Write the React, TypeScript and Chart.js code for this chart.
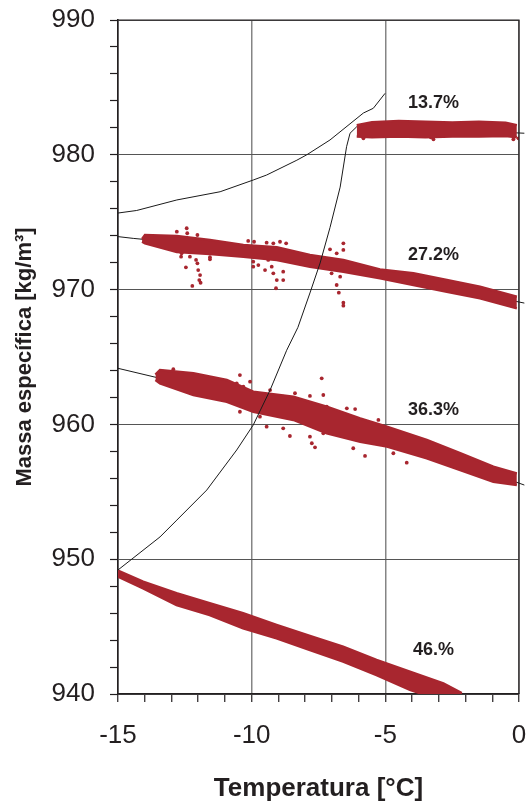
import React, { useEffect, useRef } from 'react';
import { Chart, registerables } from 'chart.js';

Chart.register(...registerables);

const FONT = "'Liberation Sans', Arial, Helvetica, sans-serif";
const TEXT = '#231f20';
const RED = '#a8262f';

// ---------- data ----------
// Dense measurement bands: upper and lower edge of each point cloud
const band137X = [-6.07, -5.5, -4.5, -3.5, -2.5, -1.5, -0.5, -0.08];
const band137Upper = [982.2, 982.42, 982.5, 982.45, 982.4, 982.45, 982.38, 982.2];
const band137Lower = [981.35, 981.3, 981.35, 981.3, 981.35, 981.35, 981.4, 981.3];

const band272X = [-14.1, -13.99, -12.8, -11.56, -10.31, -9.06, -7.82, -6.57, -5.2, -3.95, -2.7, -1.46, -0.08];
const band272Upper = [973.75, 974.05, 973.98, 973.68, 973.31, 973.14, 972.57, 972.2, 971.5, 971.21, 970.71, 970.21, 969.47];
const band272Lower = [973.55, 973.43, 972.79, 972.64, 972.44, 972.2, 971.7, 971.33, 970.84, 970.34, 969.84, 969.35, 968.61];

const band363X = [-13.6, -13.43, -12.18, -10.93, -9.94, -8.44, -7.19, -5.94, -4.94, -3.45, -2.2, -0.96, -0.08];
const band363Upper = [963.7, 964.04, 963.79, 963.29, 962.43, 962.05, 961.31, 960.45, 959.83, 958.84, 957.86, 956.86, 956.37];
const band363Lower = [963.3, 963.05, 962.18, 961.68, 960.94, 960.33, 959.34, 958.72, 958.35, 957.49, 956.62, 955.75, 955.5];

const band46X = [-15, -14.06, -12.81, -11.57, -10.32, -9.07, -7.82, -6.58, -5.33, -4.08, -2.83, -2.14];
const band46Upper = [949.15, 948.33, 947.47, 946.73, 945.99, 945.12, 944.3, 943.51, 942.52, 941.66, 940.79, 940.07];
const band46Lower = [948.7, 947.84, 946.6, 945.86, 944.87, 944.13, 943.26, 942.4, 941.41, 940.3, 939.5, 939.5];

// Scattered outlier points
const out137X = [-5.82, -3.2, -3.3, -0.21, -0.02];
const out137Y = [981.22, 981.15, 981.3, 981.15, 981.22];

const out272X = [-12.43, -12.41, -12.8, -12.03, -12.22, -11.91, -12.46, -12.0, -11.96, -12.64, -11.56, -11.93,
  -10.13, -9.91, -9.44, -9.19, -8.94, -8.71, -9.94, -9.5, -9.19, -9.06, -9.09, -8.82, -8.82,
  -6.57, -6.57, -7.07, -6.82, -7.01, -6.69, -6.82, -6.74, -6.57, -6.57,
  -12.62, -12.31, -12.08, -12.03, -11.56, -11.18, -9.81, -9.94, -9.75, -9.38, -9.25, -8.82];
const out272Y = [974.55, 974.18, 974.3, 974.05, 970.27, 970.51, 971.65, 971.45, 970.71, 972.44, 972.25, 971.08,
  973.61, 973.55, 973.48, 973.43, 973.55, 973.43, 971.7, 971.45, 971.21, 970.71, 970.1, 971.33, 970.71,
  973.43, 972.94, 972.99, 972.69, 971.21, 970.96, 970.34, 969.77, 969.03, 968.81,
  972.69, 972.44, 972.2, 971.95, 972.4, 972.94, 972.44, 972.07, 971.82, 972.2, 971.7, 972.2];

const out363X = [-12.93, -13.31, -10.44, -10.06, -7.38, -7.32, -6.44, -6.13, -9.31, -8.38, -7.82, -9.44, -8.82,
  -8.57, -7.75, -7.63, -6.2, -5.76, -4.2, -5.26,
  -10.56, -10.31, -10.13, -10.44, -9.69, -9.06, -8.82, -8.19, -7.94, -7.57, -7.19, -6.69, -6.32, -7.82, -7.32, -5.82, -4.7];
const out363Y = [964.09, 963.91, 963.66, 963.17, 963.42, 962.18, 961.19, 961.14, 962.55, 962.31, 962.11, 959.83, 959.71,
  959.14, 958.6, 958.3, 958.23, 957.66, 957.16, 960.33,
  963.05, 962.8, 961.31, 960.94, 960.57, 960.94, 962.05, 961.81, 961.07, 960.57, 961.31, 960.33, 959.58, 959.09, 959.34, 958.84, 957.86];

// Thin black fitted lines
const trend137X = [-6.07, -5.0, 0.2];
const trend137Y = [982.08, 982.06, 981.6];
const trend272X = [-15, -14.43, -14.06, -7, 0.2];
const trend272Y = [973.93, 973.8, 973.73, 971.9, 969.0];
const trend363X = [-15, -13.43, -10, -5, 0.2];
const trend363Y = [964.16, 963.42, 961.9, 959.2, 955.5];
const trend46X = [-15, -14.4, -2];
const trend46Y = [949.0, 948.4, 939.8];

// Curves
const curveLowX = [-15, -13.43, -12.8, -11.68, -10.56, -9.94, -9.31, -8.69, -8.27, -7.82, -7.44, -7.07, -6.69, -6.45, -6.32, -6.07];
const curveLowY = [949.2, 951.65, 952.9, 955.13, 958.1, 959.96, 962.55, 965.5, 967.2, 969.75, 971.97, 974.6, 977.6, 980.6, 981.6, 982.08];
const curveHighX = [-15, -14.3, -12.8, -11.18, -9.94, -9.44, -8.31, -7.94, -7.07, -5.82, -5.45, -5.01];
const curveHighY = [975.68, 975.87, 976.65, 977.26, 978.13, 978.5, 979.6, 980.0, 981.1, 983.1, 983.45, 984.56];

// Series labels (anchored in data coordinates)
const seriesLabels = ['13.7%', '27.2%', '36.3%', '46.%'];
const seriesLabelX = [-3.2, -3.2, -3.2, -3.2];
const seriesLabelY = [983.84, 972.57, 961.07, 943.26];

const xTitle = 'Temperatura [°C]';
const yTitle = 'Massa específica [kg/m³]';

const pts = (xs: number[], ys: number[]) => xs.map((x, i) => ({ x, y: ys[i] }));

const bandPair = (xs: number[], up: number[], lo: number[]) => [
  {
    type: 'line' as const, data: pts(xs, up), borderColor: RED, backgroundColor: RED, borderWidth: 2.5,
    pointRadius: 0, fill: '+1', order: 1, tension: 0,
  },
  {
    type: 'line' as const, data: pts(xs, lo), borderColor: RED, backgroundColor: RED, borderWidth: 2.5,
    pointRadius: 0, fill: false, order: 1, tension: 0,
  },
];

const dots = (xs: number[], ys: number[]) => ({
  type: 'scatter' as const, data: pts(xs, ys), backgroundColor: RED, borderColor: RED, pointRadius: 1.9,
  borderWidth: 0, order: 1,
});

const thin = (xs: number[], ys: number[], order: number) => ({
  type: 'line' as const, data: pts(xs, ys), borderColor: '#1a1a1a', borderWidth: 1, pointRadius: 0,
  fill: false, order, tension: 0, clip: { left: 0, top: 0, right: 8, bottom: 0 },
});

const decorPlugin = {
  id: 'decor',
  afterDatasetsDraw(chart: any) {
    const { ctx, chartArea, scales } = chart;
    ctx.save();
    ctx.strokeStyle = TEXT;
    ctx.lineWidth = 1.2;
    ctx.beginPath();
    ctx.moveTo(chartArea.left, chartArea.top);
    ctx.lineTo(chartArea.right, chartArea.top);
    ctx.lineTo(chartArea.right, chartArea.bottom);
    ctx.stroke();
    ctx.fillStyle = TEXT;
    ctx.font = `bold 18px ${FONT}`;
    ctx.textAlign = 'center';
    ctx.textBaseline = 'middle';
    seriesLabels.forEach((t, i) => {
      ctx.fillText(t, scales.x.getPixelForValue(seriesLabelX[i]), scales.y.getPixelForValue(seriesLabelY[i]));
    });
    ctx.restore();
  },
};

const zeroPad = (s: any) => {
  s.paddingTop = 0; s.paddingBottom = 0; s.paddingLeft = 0; s.paddingRight = 0;
};

export default function App() {
  const ref = useRef<HTMLCanvasElement>(null);
  useEffect(() => {
    const datasets: any[] = [
      thin(trend137X, trend137Y, 2),
      thin(trend272X, trend272Y, 2),
      thin(trend363X, trend363Y, 2),
      thin(trend46X, trend46Y, 2),
      ...bandPair(band137X, band137Upper, band137Lower),
      ...bandPair(band272X, band272Upper, band272Lower),
      ...bandPair(band363X, band363Upper, band363Lower),
      ...bandPair(band46X, band46Upper, band46Lower),
      dots(out137X, out137Y),
      dots(out272X, out272Y),
      dots(out363X, out363Y),
      thin(curveLowX, curveLowY, 0),
      thin(curveHighX, curveHighY, 0),
    ];
    const chart = new Chart(ref.current!, {
      type: 'scatter',
      data: { datasets },
      options: {
        responsive: false,
        animation: false,
        devicePixelRatio: 1,
        layout: { padding: { top: 20, right: 9, left: 0, bottom: 0 } },
        plugins: { legend: { display: false }, tooltip: { enabled: false } },
        scales: {
          x: {
            type: 'linear', min: -15, max: 0,
            afterFit: (s: any) => { s.height = 110; zeroPad(s); },
            ticks: {
              stepSize: 1, autoSkip: false, maxRotation: 0, padding: 18, color: TEXT,
              font: { family: FONT, size: 26 },
              callback: (v: any) => (Number(v) % 5 === 0 ? String(v) : ''),
            },
            grid: {
              color: (c: any) => (c.tick && Math.abs(c.tick.value % 5) < 1e-9 ? '#858585' : 'transparent'),
              lineWidth: 1.5, tickColor: TEXT, tickLength: 8, tickWidth: 1.2,
            },
            border: { color: TEXT, width: 1.6 },
            title: {
              display: true, text: xTitle, color: TEXT,
              font: { family: FONT, size: 26, weight: 'bold' }, padding: { top: 0, bottom: 0 },
            },
          },
          y: {
            type: 'linear', min: 940, max: 990,
            afterFit: (s: any) => { s.width = 118; zeroPad(s); },
            ticks: {
              stepSize: 2, autoSkip: false, padding: 15, color: TEXT,
              font: { family: FONT, size: 26 },
              callback: (v: any) => (Number(v) % 10 === 0 ? String(v) : ''),
            },
            grid: {
              color: (c: any) => (c.tick && Math.abs(c.tick.value % 10) < 1e-9 ? '#555555' : 'transparent'),
              lineWidth: 1, tickColor: TEXT, tickLength: 8, tickWidth: 1.2,
            },
            border: { color: TEXT, width: 1.6 },
            title: {
              display: true, text: yTitle, color: TEXT,
              font: { family: FONT, size: 22, weight: 'bold' }, padding: { top: 12, bottom: 0 },
            },
          },
        },
      },
      plugins: [decorPlugin],
    } as any);
    return () => chart.destroy();
  }, []);
  return (
    <div style={{ position: 'absolute', left: 0, top: 0, width: 528, height: 804, background: '#fff' }}>
      <canvas ref={ref} width={528} height={804} style={{ display: 'block', width: 528, height: 804 }} />
    </div>
  );
}
